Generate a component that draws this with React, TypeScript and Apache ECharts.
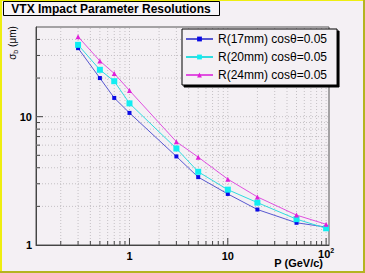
import React, { useEffect, useRef } from 'react';
import * as echarts from 'echarts';

const momenta = [0.3, 0.5, 0.7, 1, 3, 5, 10, 20, 50, 100];
const r17 = [34.2, 20.0, 14.0, 10.7, 4.9, 3.38, 2.5, 1.89, 1.49, 1.38];
const r20 = [36.3, 23.2, 18.9, 12.7, 5.65, 3.72, 2.7, 2.14, 1.59, 1.35];
const r24 = [42.0, 27.2, 21.7, 16.0, 6.38, 4.84, 3.26, 2.37, 1.71, 1.45];
const seriesNames = ['R(17mm) cosθ=0.05', 'R(20mm) cosθ=0.05', 'R(24mm) cosθ=0.05'];
const xGridValues = [
  0.2, 0.3, 0.4, 0.5, 0.6, 0.7, 0.8, 0.9, 1, 2, 3, 4, 5, 6, 7, 8, 9, 10,
  20, 30, 40, 50, 60, 70, 80, 90, 100,
];
const yGridValues = [2, 3, 4, 5, 6, 7, 8, 9, 10, 20, 30, 40];
const X_MIN = 0.112;
const X_MAX = 107;
const Y_MIN = 1;
const Y_MAX = 50;

const FONT = "'Liberation Sans', Arial, sans-serif";
const BG = '#f4f0f4';

const isDecade = (v: number) => {
  const l = Math.log10(v);
  return Math.abs(l - Math.round(l)) < 1e-6;
};

export default function App() {
  const ref = useRef<HTMLDivElement>(null);
  useEffect(() => {
    if (!ref.current) return;
    const chart = echarts.init(ref.current, undefined, { renderer: 'svg' });
    const mk = (vals: number[]) => momenta.map((p, i) => [p, vals[i]]);
    const labelBase = { fontSize: 11, fontWeight: 'bold', fontFamily: FONT, color: '#000' };
    const option: any = {
      animation: false,
      backgroundColor: BG,
      textStyle: { fontFamily: FONT },
      grid: {
        left: 36,
        right: 36,
        top: 27,
        bottom: 28,
        show: true,
        borderColor: '#555',
        borderWidth: 1,
        backgroundColor: BG,
      },
      xAxis: {
        type: 'log',
        logBase: 10,
        min: X_MIN,
        max: X_MAX,
        axisLine: { show: true, lineStyle: { color: '#444', width: 1 } },
        axisTick: { show: false },
        splitLine: { show: false },
        axisLabel: {
          margin: 17,
          verticalAlign: 'bottom',
          color: '#000',
          fontSize: 11,
          fontWeight: 'bold',
          fontFamily: FONT,
          formatter: (v: number) => {
            if (!isDecade(v)) return '';
            const e = Math.round(Math.log10(v));
            if (e >= 2) return '{n|10}{s|' + e + '}\n{g|}';
            return '{n|' + String(Math.round(v)) + '}';
          },
          rich: {
            n: { ...labelBase, lineHeight: 13 },
            s: { ...labelBase, fontSize: 7, verticalAlign: 'top', lineHeight: 13 },
            g: { lineHeight: 2, height: 2 },
          },
        },
      },
      yAxis: {
        type: 'log',
        logBase: 10,
        min: Y_MIN,
        max: Y_MAX,
        axisLine: { show: true, lineStyle: { color: '#444', width: 1 } },
        axisTick: { show: false },
        splitLine: { show: false },
        axisLabel: {
          margin: 4,
          color: '#000',
          fontSize: 11,
          fontWeight: 'bold',
          fontFamily: FONT,
          formatter: (v: number) => (isDecade(v) ? String(Math.round(v)) : ''),
        },
      },
      legend: {
        data: seriesNames,
        orient: 'vertical',
        left: 182,
        top: 29,
        z: 6,
        padding: [3, 10, 3, 3],
        backgroundColor: BG,
        borderColor: '#000',
        borderWidth: 1,
        shadowColor: '#000',
        shadowBlur: 0,
        shadowOffsetX: 2,
        shadowOffsetY: 2,
        itemWidth: 27,
        itemHeight: 6,
        itemGap: 4,
        textStyle: { fontSize: 12, color: '#000', fontFamily: FONT, lineHeight: 14 },
      },
      graphic: [
        { type: 'rect', shape: { x: 0, y: 0, width: 2, height: 273 }, style: { fill: '#eeee10' }, z: 10 },
        { type: 'rect', shape: { x: 0, y: 0, width: 365, height: 1 }, style: { fill: '#eeee10' }, z: 10 },
        { type: 'rect', shape: { x: 363, y: 0, width: 2, height: 273 }, style: { fill: '#b4b420' }, z: 10 },
        { type: 'rect', shape: { x: 0, y: 271, width: 365, height: 2 }, style: { fill: '#b4b420' }, z: 10 },
        {
          type: 'rect',
          shape: { x: 3.5, y: 1.5, width: 216, height: 14 },
          style: { fill: '#f7f4f7', stroke: '#000', lineWidth: 1 },
          z: 10,
        },
        {
          type: 'text',
          x: 111,
          y: 9,
          z: 11,
          style: {
            text: 'VTX Impact Parameter Resolutions',
            fill: '#000',
            font: `bold 12px ${FONT}`,
            align: 'center',
            verticalAlign: 'middle',
          },
        },
        {
          type: 'text',
          x: 12,
          y: 43,
          rotation: Math.PI / 2,
          z: 10,
          style: {
            text: 'σ{s|b} (μm)',
            fill: '#000',
            font: `10px ${FONT}`,
            align: 'center',
            verticalAlign: 'middle',
            rich: { s: { fontSize: 7, fontFamily: FONT, fill: '#000', padding: [6, 0, 0, 0] } },
          },
        },
        {
          type: 'text',
          x: 323,
          y: 263,
          z: 10,
          style: {
            text: 'P (GeV/c)',
            fill: '#000',
            font: `bold 11px ${FONT}`,
            align: 'right',
            verticalAlign: 'middle',
          },
        },
      ],
      series: [
        {
          type: 'custom',
          name: 'xgrid',
          silent: true,
          z: 1,
          data: xGridValues.map((v) => [v, Y_MIN]),
          encode: { x: 0, y: 1 },
          renderItem: (_p: any, api: any) => {
            const v = api.value(0);
            const b = api.coord([v, Y_MIN]);
            const t = api.coord([v, Y_MAX]);
            const len = isDecade(v) ? 7 : 4;
            return {
              type: 'group',
              children: [
                {
                  type: 'line',
                  shape: { x1: b[0], y1: b[1], x2: t[0], y2: t[1] },
                  style: { stroke: '#c4c0c4', lineWidth: 1, lineDash: [1, 2] },
                },
                {
                  type: 'line',
                  shape: { x1: b[0], y1: b[1], x2: b[0], y2: b[1] - len },
                  style: { stroke: '#444', lineWidth: 1 },
                },
              ],
            };
          },
        },
        {
          type: 'custom',
          name: 'ygrid',
          silent: true,
          z: 1,
          data: yGridValues.map((v) => [X_MIN, v]),
          encode: { x: 0, y: 1 },
          renderItem: (_p: any, api: any) => {
            const v = api.value(1);
            const l = api.coord([X_MIN, v]);
            const r = api.coord([X_MAX, v]);
            const len = isDecade(v) ? 7 : 4;
            return {
              type: 'group',
              children: [
                {
                  type: 'line',
                  shape: { x1: l[0], y1: l[1], x2: r[0], y2: r[1] },
                  style: { stroke: '#c4c0c4', lineWidth: 1, lineDash: [1, 2] },
                },
                {
                  type: 'line',
                  shape: { x1: l[0], y1: l[1], x2: l[0] + len, y2: l[1] },
                  style: { stroke: '#444', lineWidth: 1 },
                },
              ],
            };
          },
        },
        {
          type: 'line',
          name: seriesNames[0],
          data: mk(r17),
          z: 3,
          symbol: 'rect',
          symbolSize: 4,
          lineStyle: { color: '#5858d0', width: 1 },
          itemStyle: { color: '#0a0ae6' },
        },
        {
          type: 'line',
          name: seriesNames[1],
          data: mk(r20),
          z: 3,
          symbol: 'rect',
          symbolSize: 6,
          lineStyle: { color: '#30dce0', width: 1 },
          itemStyle: { color: '#10eef2' },
        },
        {
          type: 'line',
          name: seriesNames[2],
          data: mk(r24),
          z: 3,
          symbol: 'triangle',
          symbolSize: 5,
          lineStyle: { color: '#e050e0', width: 1 },
          itemStyle: { color: '#e020d8' },
        },
      ],
    };
    chart.setOption(option);
    return () => chart.dispose();
  }, []);
  return (
    <div
      ref={ref}
      style={{ position: 'fixed', left: 0, top: 0, width: 365, height: 273 }}
    />
  );
}
